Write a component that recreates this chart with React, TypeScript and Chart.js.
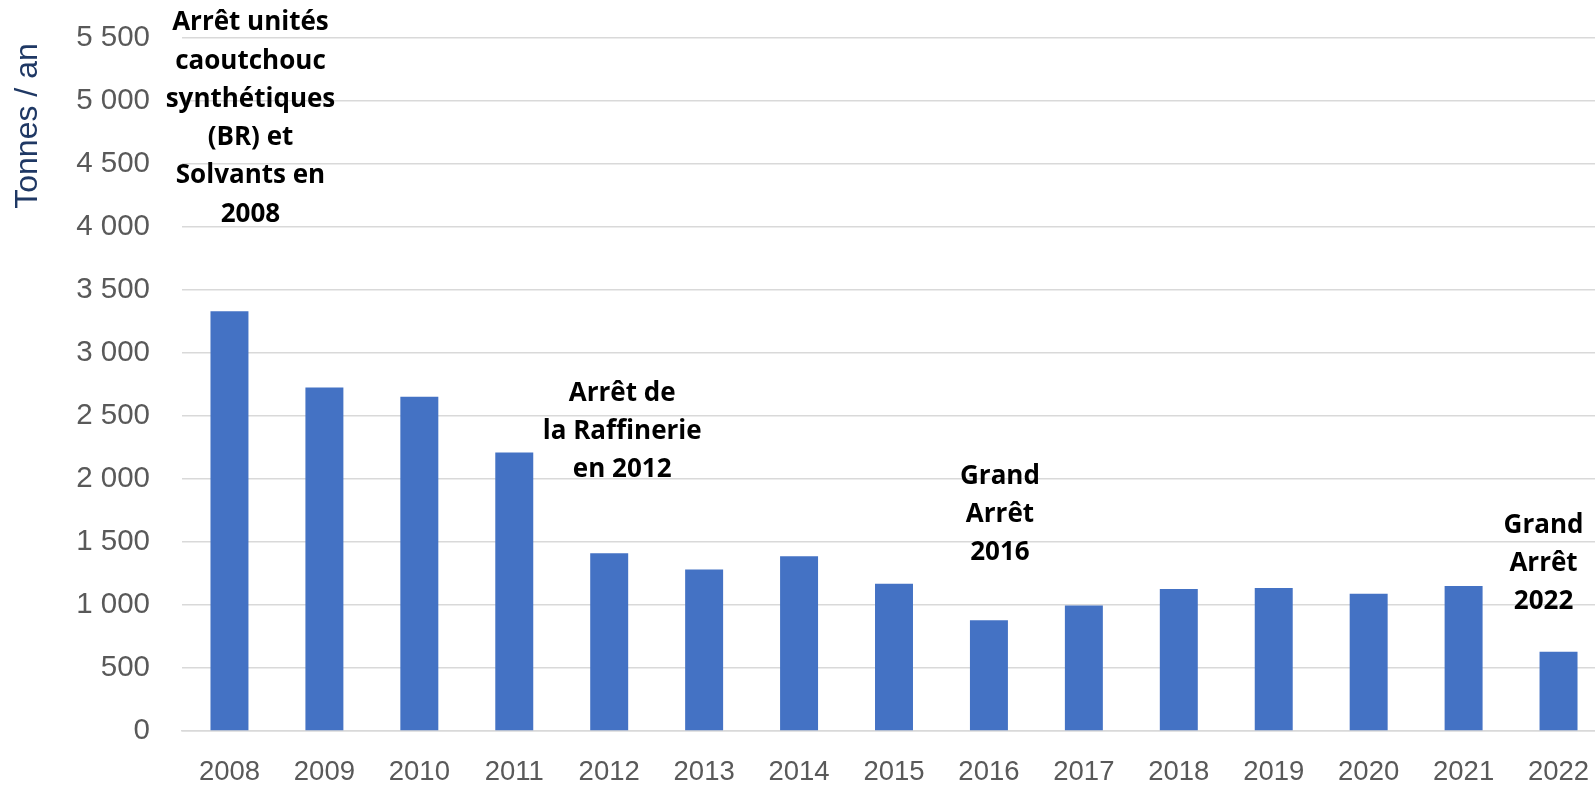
import React, { useEffect, useRef } from "react";
import { Chart, registerables } from "chart.js";

Chart.register(...registerables);

const categories = [
  "2008", "2009", "2010", "2011", "2012", "2013", "2014", "2015",
  "2016", "2017", "2018", "2019", "2020", "2021", "2022",
];
const emissions = [3331, 2726, 2653, 2210, 1411, 1282, 1387, 1169, 879, 997, 1127, 1135, 1089, 1150, 629];

const yAxisTitle = "Tonnes / an";
const yMin = 0;
const yMax = 5500;
const yStep = 500;

const annotationLines = [
  ["Arrêt unités", "caoutchouc", "synthétiques", "(BR) et", "Solvants en", "2008"],
  ["Arrêt de", "la Raffinerie", "en 2012"],
  ["Grand", "Arrêt", "2016"],
  ["Grand", "Arrêt", "2022"],
];
const annotationCategories = ["2008", "2012", "2016", "2022"];
const annotationTopValues = [5620, 2681, 2023, 1634];

const formatThousands = (v: number) =>
  String(v).replace(/\B(?=(\d{3})+(?!\d))/g, " ");

const annotationPlugin = {
  id: "textAnnotations",
  afterDraw(chart: any, _args: any, opts: any) {
    const { ctx, scales, chartArea } = chart;
    const xs = scales.x;
    const ys = scales.y;
    ctx.save();
    // y axis title
    ctx.save();
    ctx.translate(opts.titleX, chartArea.top + opts.titleOffsetY);
    ctx.rotate(-Math.PI / 2);
    ctx.font = opts.titleFont;
    ctx.fillStyle = opts.titleColor;
    ctx.textAlign = "center";
    ctx.textBaseline = "middle";
    ctx.fillText(yAxisTitle, 0, 0);
    ctx.restore();

    ctx.font = opts.font;
    ctx.fillStyle = opts.color;
    ctx.textAlign = "center";
    ctx.textBaseline = "middle";
    annotationLines.forEach((lines, i) => {
      const idx = categories.indexOf(annotationCategories[i]);
      const x = xs.getPixelForValue(idx) + opts.offsets[i];
      const y0 = ys.getPixelForValue(annotationTopValues[i]);
      lines.forEach((line, j) => {
        ctx.fillText(line, x, y0 + j * opts.lineHeight);
      });
    });
    ctx.restore();
  },
};

export default function App() {
  const canvasRef = useRef<HTMLCanvasElement | null>(null);

  useEffect(() => {
    document.body.style.margin = "0";
    document.body.style.overflow = "hidden";
    document.documentElement.style.overflow = "hidden";
    const canvas = canvasRef.current;
    if (!canvas) return;
    const chart = new Chart(canvas, {
      type: "bar",
      data: {
        labels: categories,
        datasets: [
          {
            data: emissions,
            backgroundColor: "#4472C4",
            borderWidth: 0,
            barPercentage: 0.4,
            categoryPercentage: 1,
          },
        ],
      },
      options: {
        responsive: false,
        animation: false,
        layout: { padding: { top: 38, right: 0, left: 0, bottom: 0 } },
        plugins: {
          legend: { display: false },
          tooltip: { enabled: false },
          textAnnotations: {
            font: "bold 26px 'Open Sans'",
            color: "#000000",
            lineHeight: 38.3,
            offsets: [21, 13, 11, -15],
            titleFont: "32px 'Liberation Sans'",
            titleColor: "#1F3864",
            titleX: 28,
            titleOffsetY: 88,
          },
        } as any,
        scales: {
          x: {
            grid: { display: false, drawTicks: false },
            border: { display: true, color: "#D9D9D9", width: 1.5 },
            ticks: {
              color: "#595959",
              font: { family: "'Liberation Sans'", size: 27.5 },
              padding: 25,
              maxRotation: 0,
              autoSkip: false,
            },
            afterFit: (scale: any) => {
              scale.height = 54;
              scale.paddingLeft = 0;
              scale.paddingRight = 0;
            },
          },
          y: {
            min: yMin,
            max: yMax,
            border: { display: false },
            grid: { color: "#D9D9D9", lineWidth: 1.5, drawTicks: false },
            ticks: {
              stepSize: yStep,
              color: "#595959",
              font: { family: "'Liberation Sans'", size: 29.5 },
              padding: 32,
              callback: (v: any) => formatThousands(Number(v)),
            },
            afterFit: (scale: any) => {
              scale.width = 182;
              scale.paddingTop = 0;
              scale.paddingBottom = 0;
            },
          },
        },
      },
      plugins: [annotationPlugin],
    });
    return () => chart.destroy();
  }, []);

  return (
    <div style={{ position: "fixed", left: 0, top: 0, width: 1606, height: 785, background: "#fff" }}>
      <canvas ref={canvasRef} width={1606} height={785} style={{ display: "block" }} />
    </div>
  );
}
